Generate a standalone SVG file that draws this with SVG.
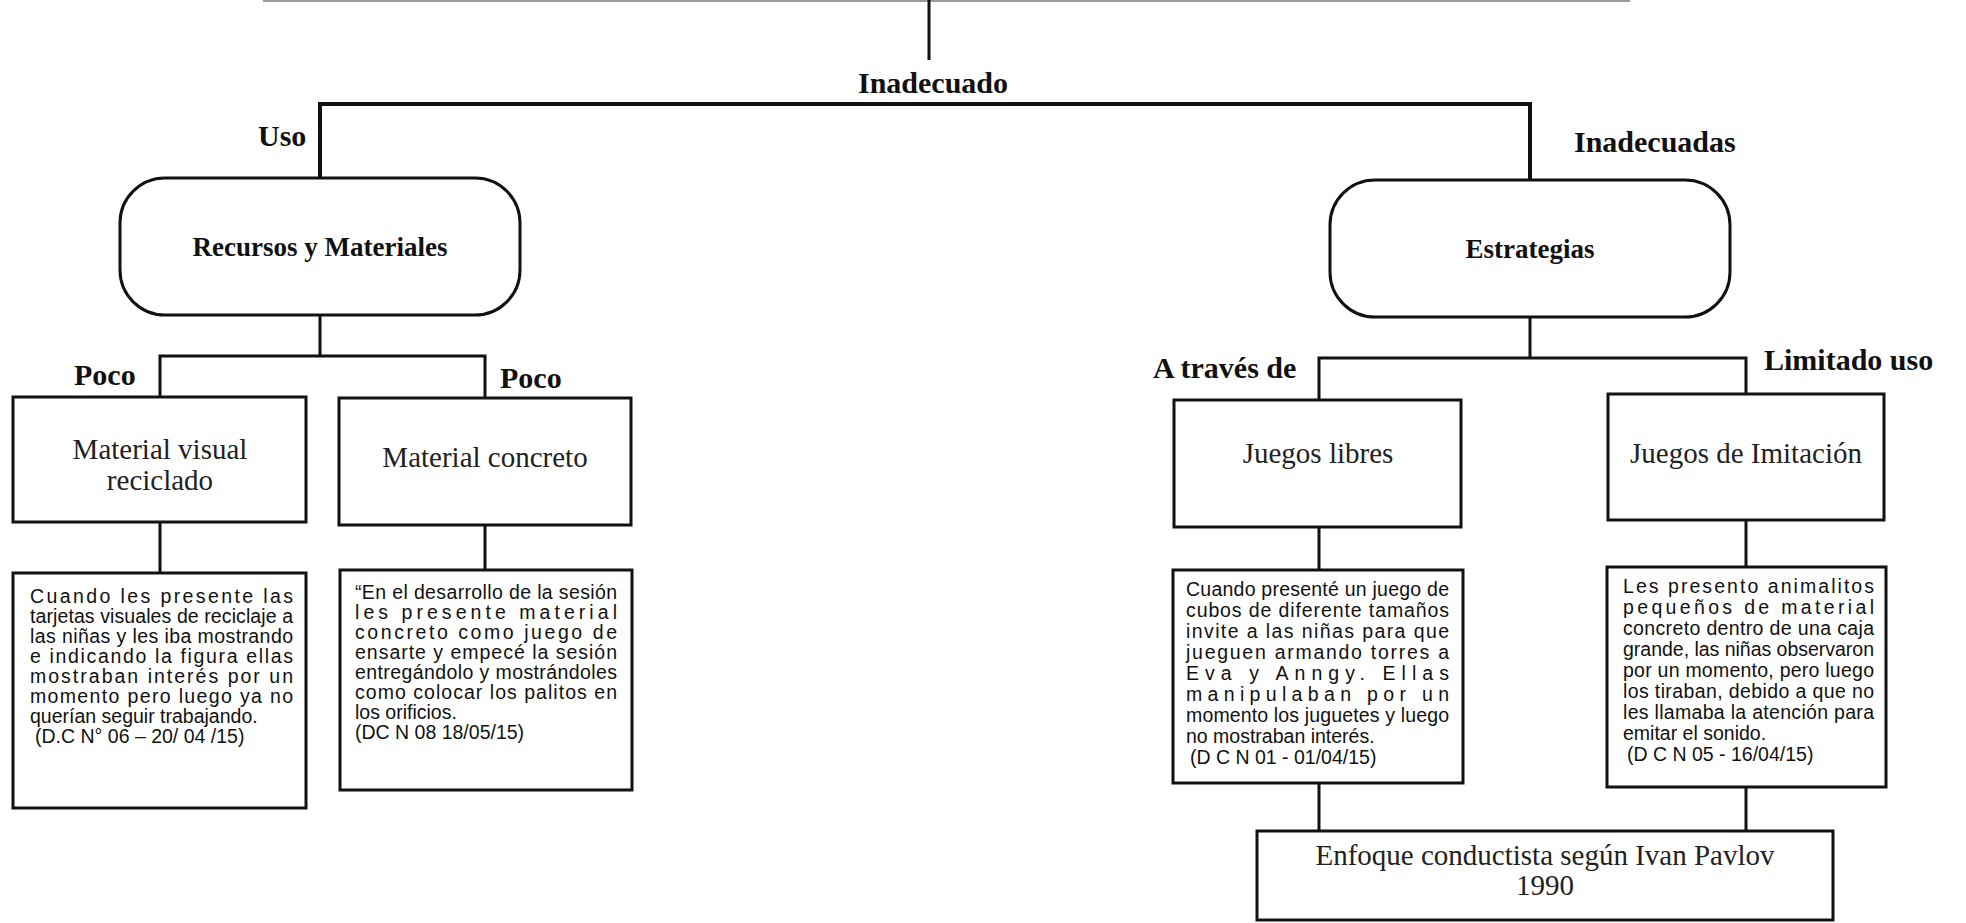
<svg xmlns="http://www.w3.org/2000/svg" width="1966" height="923" viewBox="0 0 1966 923">
<style>
.bg{fill:#ffffff}
.box{fill:#ffffff;stroke:#111;stroke-width:3}
.wire{fill:none;stroke:#111;stroke-width:3}
.top{fill:none;stroke:#999;stroke-width:2}
.lbl{font-family:"Liberation Serif","Times New Roman",serif;font-weight:bold;font-size:30px;fill:#111}
.title{font-family:"Liberation Serif","Times New Roman",serif;font-weight:bold;font-size:27px;fill:#111;text-anchor:middle}
.node{font-family:"Liberation Serif","Times New Roman",serif;font-size:29px;fill:#222;text-anchor:middle}
.body{font-family:"Liberation Sans",Arial,sans-serif;font-size:19.5px;fill:#111}
</style>
<rect class="bg" x="0" y="0" width="1966" height="923"/>
<g id="connectors">
  <line class="top" x1="263" y1="1" x2="1630" y2="1"/>
  <line class="wire" x1="929" y1="0" x2="929" y2="60"/>
  <polyline class="wire" style="stroke-width:4" points="320,178 320,104 1530,104 1530,180"/>
  <line class="wire" x1="320" y1="315" x2="320" y2="356"/>
  <polyline class="wire" points="160,397 160,356 485,356 485,397"/>
  <line class="wire" x1="160" y1="522" x2="160" y2="573"/>
  <line class="wire" x1="485" y1="525" x2="485" y2="570"/>
  <line class="wire" x1="1530" y1="317" x2="1530" y2="358"/>
  <polyline class="wire" points="1319,400 1319,358 1746,358 1746,394"/>
  <line class="wire" x1="1319" y1="527" x2="1319" y2="570"/>
  <line class="wire" x1="1746" y1="520" x2="1746" y2="567"/>
  <line class="wire" x1="1319" y1="783" x2="1319" y2="831"/>
  <line class="wire" x1="1746" y1="787" x2="1746" y2="831"/>
</g>
<g id="connector-labels">
  <text class="lbl" x="933" y="93" text-anchor="middle">Inadecuado</text>
  <text class="lbl" x="258" y="146">Uso</text>
  <text class="lbl" x="1574" y="152">Inadecuadas</text>
  <text class="lbl" x="74" y="385">Poco</text>
  <text class="lbl" x="500" y="388">Poco</text>
  <text class="lbl" x="1153" y="378">A través de</text>
  <text class="lbl" x="1764" y="370">Limitado uso</text>
</g>
<g id="recursos">
  <rect class="box" x="120" y="178" width="400" height="137" rx="45" ry="45"/>
  <text class="title" x="320" y="256">Recursos y Materiales</text>
</g>
<g id="estrategias">
  <rect class="box" x="1330" y="180" width="400" height="137" rx="45" ry="45"/>
  <text class="title" x="1530" y="258">Estrategias</text>
</g>
<g id="material-visual">
  <rect class="box" x="13" y="397" width="293" height="125"/>
  <text class="node" x="160" y="459">Material visual</text>
  <text class="node" x="160" y="490">reciclado</text>
</g>
<g id="material-concreto">
  <rect class="box" x="339" y="398" width="292" height="127"/>
  <text class="node" x="485" y="467">Material concreto</text>
</g>
<g id="juegos-libres">
  <rect class="box" x="1174" y="400" width="287" height="127"/>
  <text class="node" x="1318" y="463">Juegos libres</text>
</g>
<g id="juegos-imitacion">
  <rect class="box" x="1608" y="394" width="276" height="126"/>
  <text class="node" x="1746" y="463">Juegos de Imitación</text>
</g>
<g id="obs-visual">
  <rect class="box" x="13" y="573" width="293" height="235"/>
  <text class="body" x="30" y="603" textLength="263" lengthAdjust="spacing">Cuando les presente   las</text>
  <text class="body" x="30" y="623" textLength="263" lengthAdjust="spacing">tarjetas visuales de reciclaje a</text>
  <text class="body" x="30" y="643" textLength="263" lengthAdjust="spacing">las niñas y les iba mostrando</text>
  <text class="body" x="30" y="663" textLength="263" lengthAdjust="spacing">e indicando la figura ellas</text>
  <text class="body" x="30" y="683" textLength="263" lengthAdjust="spacing">mostraban interés por un</text>
  <text class="body" x="30" y="703" textLength="263" lengthAdjust="spacing">momento  pero luego ya no</text>
  <text class="body" x="30" y="723">querían seguir trabajando.</text>
  <text class="body" x="35" y="743">(D.C N° 06 – 20/ 04 /15)</text>
</g>
<g id="obs-concreto">
  <rect class="box" x="340" y="570" width="292" height="220"/>
  <text class="body" x="355" y="599" textLength="262" lengthAdjust="spacing">“En el desarrollo de la sesión</text>
  <text class="body" x="355" y="619" textLength="262" lengthAdjust="spacing">les presente material</text>
  <text class="body" x="355" y="639" textLength="262" lengthAdjust="spacing">concreto como juego de</text>
  <text class="body" x="355" y="659" textLength="262" lengthAdjust="spacing">ensarte y empecé la sesión</text>
  <text class="body" x="355" y="679" textLength="262" lengthAdjust="spacing">entregándolo y mostrándoles</text>
  <text class="body" x="355" y="699" textLength="262" lengthAdjust="spacing">como colocar los palitos en</text>
  <text class="body" x="355" y="719">los orificios.</text>
  <text class="body" x="355" y="739">(DC N 08  18/05/15)</text>
</g>
<g id="obs-libres">
  <rect class="box" x="1173" y="570" width="290" height="213"/>
  <text class="body" x="1186" y="596" textLength="263" lengthAdjust="spacing">Cuando presenté un juego de</text>
  <text class="body" x="1186" y="617" textLength="263" lengthAdjust="spacing">cubos de diferente tamaños</text>
  <text class="body" x="1186" y="638" textLength="263" lengthAdjust="spacing">invite a las niñas para que</text>
  <text class="body" x="1186" y="659" textLength="263" lengthAdjust="spacing">jueguen armando torres    a</text>
  <text class="body" x="1186" y="680" textLength="263" lengthAdjust="spacing">Eva y Anngy. Ellas</text>
  <text class="body" x="1186" y="701" textLength="263" lengthAdjust="spacing">manipulaban por un</text>
  <text class="body" x="1186" y="722" textLength="263" lengthAdjust="spacing">momento los juguetes y luego</text>
  <text class="body" x="1186" y="743">no mostraban interés.</text>
  <text class="body" x="1190" y="764">(D C N 01 - 01/04/15)</text>
</g>
<g id="obs-imitacion">
  <rect class="box" x="1607" y="567" width="279" height="220"/>
  <text class="body" x="1623" y="593" textLength="251" lengthAdjust="spacing">Les presento animalitos</text>
  <text class="body" x="1623" y="614" textLength="251" lengthAdjust="spacing">pequeños de material</text>
  <text class="body" x="1623" y="635" textLength="251" lengthAdjust="spacing">concreto dentro de una caja</text>
  <text class="body" x="1623" y="656" textLength="251" lengthAdjust="spacing">grande, las niñas observaron</text>
  <text class="body" x="1623" y="677" textLength="251" lengthAdjust="spacing">por un momento, pero luego</text>
  <text class="body" x="1623" y="698" textLength="251" lengthAdjust="spacing">los tiraban, debido a que no</text>
  <text class="body" x="1623" y="719" textLength="251" lengthAdjust="spacing">les llamaba la atención para</text>
  <text class="body" x="1623" y="740">emitar el sonido.</text>
  <text class="body" x="1627" y="761">(D C N 05 - 16/04/15)</text>
</g>
<g id="enfoque">
  <rect class="box" x="1257" y="831" width="576" height="89"/>
  <text class="node" x="1545" y="865">Enfoque conductista según Ivan Pavlov</text>
  <text class="node" x="1545" y="895">1990</text>
</g>
</svg>
